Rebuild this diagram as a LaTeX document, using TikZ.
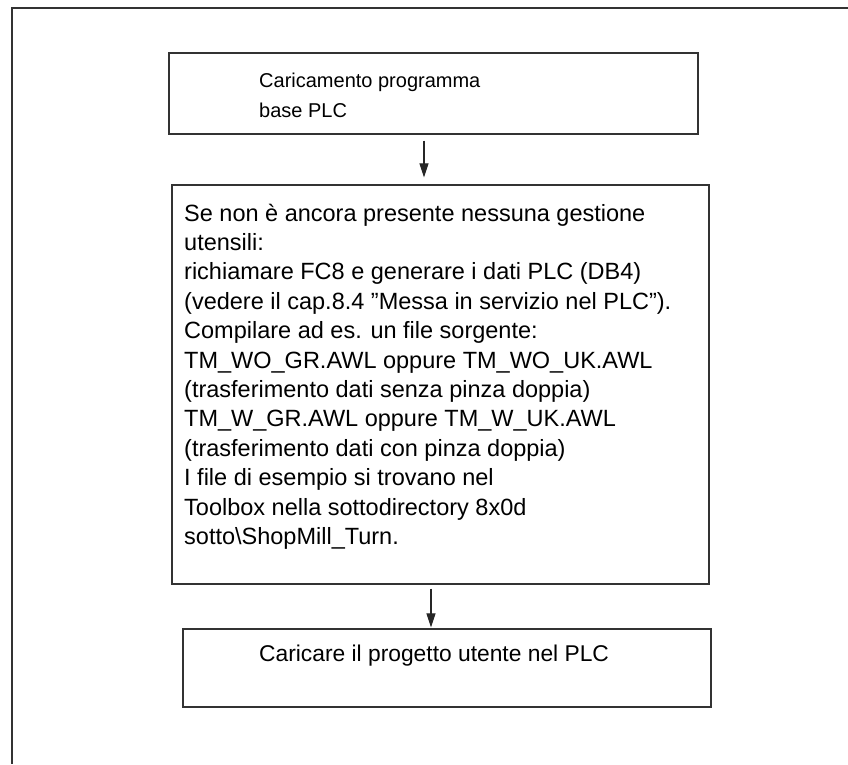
\documentclass[tikz,border=0pt]{standalone}
\usepackage{fontspec}
\setmainfont{Liberation Sans}
\usetikzlibrary{arrows.meta}
\begin{document}
\begin{tikzpicture}[x=1pt,y=-1pt,
  frame/.style={line width=1.2pt, draw=black!80},
  box/.style={draw=black!80, line width=1.2pt, inner sep=0pt, minimum width=#1},
  label/.style={anchor=base west, inner sep=0pt, text=black},
  arr/.style={draw=black!85, line width=1.1pt, -{Triangle[length=14pt,width=9pt]}}]
  \useasboundingbox (0,0) rectangle (848,764);
  % open outer frame: top and left edges only
  \coordinate (ftl) at (12,8);
  \coordinate (ftr) at (848,8);
  \coordinate (fbl) at (12,764);
  \draw[frame] (ftr) -- (ftl) -- (fbl);

  % boxes
  \node[box=529pt, minimum height=81pt] (b1) at (433.5,93.5) {};
  \node[box=537pt, minimum height=399pt] (b2) at (440.5,384.5) {};
  \node[box=528pt, minimum height=78pt] (b3) at (447,668) {};

  % texts
  \node[label] (t1) at (259,87) {\parbox[t]{420pt}{\fontsize{20}{30}\selectfont\raggedright
    Caricamento programma\\
    base PLC}};
  \node[label] (t2) at (184,221) {\parbox[t]{520pt}{\fontsize{23.5}{29.4}\selectfont\raggedright
    Se non è ancora presente nessuna gestione\\
    utensili:\\
    richiamare FC8 e generare i dati PLC (DB4)\\
    (vedere il cap.8.4 ”Messa in servizio nel PLC”).\\
    Compilare ad es. un file sorgente:\\
    TM\_WO\_GR.AWL oppure TM\_WO\_UK.AWL\\
    (trasferimento dati senza pinza doppia)\\
    TM\_W\_GR.AWL oppure TM\_W\_UK.AWL\\
    (trasferimento dati con pinza doppia)\\
    I file di esempio si trovano nel\\
    Toolbox nella sottodirectory 8x0d\\
    sotto\textbackslash ShopMill\_Turn.}};
  \node[label] (t3) at (259,661) {\fontsize{22.8}{28}\selectfont Caricare il progetto utente nel PLC};

  % connectors
  \coordinate (x1) at (424,0);
  \coordinate (x2) at (431,0);
  \draw[arr, shorten <=6pt, shorten >=7pt] (b1.south -| x1) -- (b2.north -| x1);
  \draw[arr, shorten <=4pt, shorten >=1pt] (b2.south -| x2) -- (b3.north -| x2);
\end{tikzpicture}
\end{document}
